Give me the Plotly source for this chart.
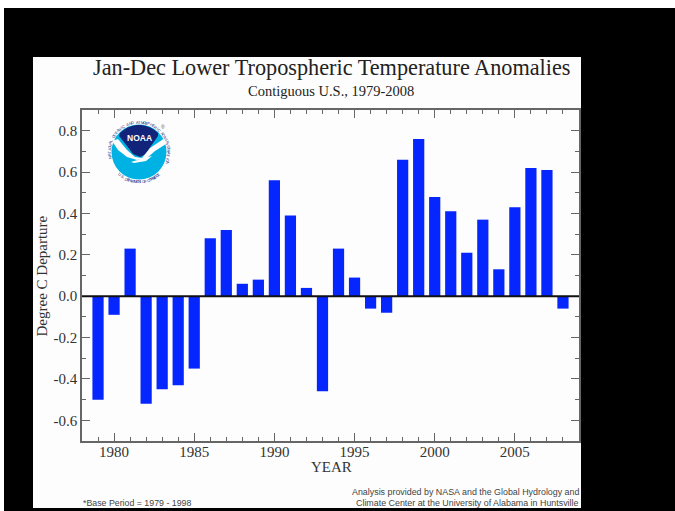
import math
import plotly.graph_objects as go

years = list(range(1979, 2009))
anomalies = [-0.50, -0.09, 0.23, -0.52, -0.45, -0.43, -0.35, 0.28, 0.32, 0.06,
             0.08, 0.56, 0.39, 0.04, -0.46, 0.23, 0.09, -0.06, -0.08, 0.66,
             0.76, 0.48, 0.41, 0.21, 0.37, 0.13, 0.43, 0.62, 0.61, -0.06]
x_ticks = [1980, 1985, 1990, 1995, 2000, 2005]
y_ticks = [-0.6, -0.4, -0.2, 0.0, 0.2, 0.4, 0.6, 0.8]
y_labels = ["-0.6", "-0.4", "-0.2", "0.0", "0.2", "0.4", "0.6", "0.8"]

W, H = 675, 511
OX, OY = 4, 8
L, R, T, B = 82, 579, 110, 441
SERIF = "Liberation Serif"
SANS = "Liberation Sans"
INK = "#666666"
TEXT = "#333333"

def px(x): return (x - L) / (R - L)
def py(y): return (B - y) / (B - T)

fig = go.Figure(go.Bar(x=years, y=anomalies, width=0.7, marker=dict(color="#0526ff", line_width=0)))

shapes = [dict(type="rect", xref="paper", yref="paper", layer="below",
               x0=px(33), x1=px(581), y0=py(508), y1=py(57),
               fillcolor="#fdfdfd", line_width=0),
          dict(type="line", xref="paper", yref="y", x0=0, x1=1, y0=0, y1=0,
               line=dict(color="#111111", width=2))]

def circle(cx, cy, r, **kw):
    return dict(type="circle", xref="paper", yref="paper", x0=px(cx - r), x1=px(cx + r),
                y0=py(cy + r), y1=py(cy - r), **kw)

def path(points, fill):
    d = "M" + " L".join(f"{px(a):.5f},{py(b):.5f}" for a, b in points) + " Z"
    return dict(type="path", xref="paper", yref="paper", path=d, fillcolor=fill, line_width=0)

cx, cy = 139, 152
shapes.append(circle(cx, cy, 27.5, fillcolor="#00b2e3", line_width=0))
upper = [(cx + 27 * math.cos(math.radians(a)), cy + 27 * math.sin(math.radians(a)))
         for a in range(-135, -40, 10)] + [(158, 136), (151, 146), (146, 154), (140, 157), (133, 154), (127, 146), (119, 136)]
shapes.append(path(upper, "#12247a"))
shapes.append(path([(112, 141), (118, 139), (127, 150), (135, 157), (142, 158), (150, 148), (165, 138), (166, 144),
                    (155, 151), (147, 158), (137, 160), (127, 157), (118, 150)], "#fdfdfd"))
shapes.append(path([(131, 162), (144, 158), (152, 156), (146, 161), (134, 163)], "#fdfdfd"))

annotations = [
    dict(x=px(331.5), y=py(68), text="Jan-Dec Lower Tropospheric Temperature Anomalies", font=dict(family=SERIF, size=22.25, color="#222222")),
    dict(x=px(331), y=py(91), text="Contiguous U.S., 1979-2008", font=dict(family=SERIF, size=14.5, color="#222222")),
    dict(x=px(331), y=py(467), text="YEAR", font=dict(family=SERIF, size=15, color=TEXT)),
    dict(x=px(41.5), y=py(276), text="Degree C Departure", textangle=-90, font=dict(family=SERIF, size=15, color=TEXT)),
    dict(x=px(82), y=py(503), xanchor="left", text="*Base Period = 1979 - 1998", font=dict(family=SANS, size=8.8, color="#444444")),
    dict(x=px(580), y=py(492), xanchor="right", text="Analysis provided by NASA and the Global Hydrology and", font=dict(family=SANS, size=8.9, color="#444444")),
    dict(x=px(580), y=py(503), xanchor="right", text="Climate Center at the University of Alabama in Huntsville", font=dict(family=SANS, size=8.9, color="#444444")),
    dict(x=px(139), y=py(138), text="<b>NOAA</b>", font=dict(family=SANS, size=8.5, color="#ffffff")),
    dict(x=px(163), y=py(127), text="®", font=dict(family=SANS, size=5, color="#555555")),
]

def ring(text, start, step, outward_top=True):
    for i, ch in enumerate(text):
        ang = start + i * step
        a = math.radians(ang)
        annotations.append(dict(x=px(cx + 29.8 * math.cos(a)), y=py(cy + 29.8 * math.sin(a)), text=ch,
                                textangle=(ang + 90) if outward_top else (ang - 90),
                                font=dict(family=SANS, size=4, color="#1b2f86")))

ring("NATIONAL OCEANIC AND ATMOSPHERIC ADMINISTRATION", -190, 4.6)
ring("U.S. DEPARTMENT OF COMMERCE", 130, -3.1, outward_top=False)
for a in annotations:
    a.update(xref="paper", yref="paper", showarrow=False, borderpad=0)
    a.setdefault("xanchor", "center")
    a.setdefault("yanchor", "middle")

fig.update_layout(
    width=W - OX, height=H - OY, autosize=False, showlegend=False,
    margin=dict(l=L - OX, r=W - R, t=T - OY, b=H - B),
    paper_bgcolor="#000000", plot_bgcolor="#fdfdfd",
    shapes=shapes, annotations=annotations,
    xaxis=dict(range=[1978, 2009], tickmode="array", tickvals=x_ticks, ticks="inside", ticklen=8, tickwidth=1,
               tickcolor=INK, showline=True, linecolor=INK, linewidth=1.5, mirror="allticks", showgrid=False, zeroline=False,
               ticklabelstandoff=-4, tickfont=dict(family=SERIF, size=15, color=TEXT),
               minor=dict(tickmode="linear", dtick=1, ticks="inside", ticklen=4, tickcolor=INK, showgrid=False)),
    yaxis=dict(range=[-0.7, 0.9], tickmode="array", tickvals=y_ticks, ticktext=y_labels, ticks="inside", ticklen=8, tickwidth=1,
               tickcolor=INK, showline=True, linecolor=INK, linewidth=1.5, mirror="allticks", showgrid=False, zeroline=False,
               tickfont=dict(family=SERIF, size=15, color=TEXT),
               minor=dict(tickmode="linear", dtick=0.1, ticks="inside", ticklen=4, tickcolor=INK, showgrid=False)),
)
post = f"document.body.style.margin='{OY}px 0 0 {OX}px';document.documentElement.style.overflow='hidden';"
fig.write_html("out.html", post_script=post)
